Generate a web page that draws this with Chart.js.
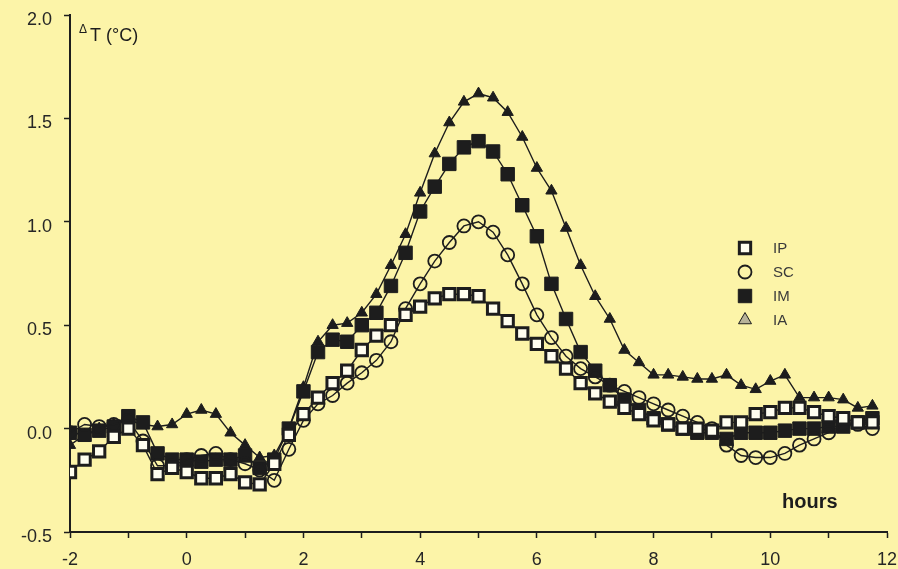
<!DOCTYPE html>
<html>
<head>
<meta charset="utf-8">
<script src="https://cdn.jsdelivr.net/npm/chart.js@4.4.1/dist/chart.umd.min.js"></script>
<style>
  html, body { margin: 0; padding: 0; background: #fcf4a8; }
  #wrap { width: 898px; height: 569px; }
</style>
</head>
<body>
<div id="wrap"><canvas id="myChart" width="898" height="569"></canvas></div>
<script>
// sampling times (hours), one point every 15 minutes
const hours = [
    -2, -1.75, -1.5, -1.25, -1, -0.75, -0.5, -0.25,
    0, 0.25, 0.5, 0.75, 1, 1.25, 1.5, 1.75,
    2, 2.25, 2.5, 2.75, 3, 3.25, 3.5, 3.75,
    4, 4.25, 4.5, 4.75, 5, 5.25, 5.5, 5.75,
    6, 6.25, 6.5, 6.75, 7, 7.25, 7.5, 7.75,
    8, 8.25, 8.5, 8.75, 9, 9.25, 9.5, 9.75,
    10, 10.25, 10.5, 10.75, 11, 11.25, 11.5, 11.75
];

const ipValues = [
    -0.21, -0.15, -0.11, -0.04, 0.00, -0.08, -0.22, -0.19,
    -0.21, -0.24, -0.24, -0.22, -0.26, -0.27, -0.17, -0.03,
    0.07, 0.15, 0.22, 0.28, 0.38, 0.45, 0.50, 0.55,
    0.59, 0.63, 0.65, 0.65, 0.64, 0.58, 0.52, 0.46,
    0.41, 0.35, 0.29, 0.22, 0.17, 0.13, 0.10, 0.07,
    0.04, 0.02, 0.00, 0.00, -0.01, 0.03, 0.03, 0.07,
    0.08, 0.10, 0.10, 0.08, 0.06, 0.05, 0.03, 0.03
];

const scValues = [
    -0.02, 0.02, 0.01, 0.02, 0.04, -0.06, -0.18, -0.18,
    -0.15, -0.13, -0.12, -0.15, -0.17, -0.20, -0.25, -0.10,
    0.04, 0.12, 0.16, 0.22, 0.27, 0.33, 0.42, 0.58,
    0.70, 0.81, 0.90, 0.98, 1.00, 0.95, 0.84, 0.70,
    0.55, 0.44, 0.35, 0.29, 0.25, 0.21, 0.18, 0.15,
    0.12, 0.09, 0.06, 0.03, 0.00, -0.08, -0.13, -0.14,
    -0.14, -0.12, -0.08, -0.05, -0.02, 0.02, 0.02, 0.00
];

const imValues = [
    -0.02, -0.03, -0.01, 0.01, 0.06, 0.03, -0.12, -0.15,
    -0.15, -0.16, -0.15, -0.15, -0.13, -0.19, -0.15, 0.00,
    0.18, 0.37, 0.43, 0.42, 0.50, 0.56, 0.69, 0.85,
    1.05, 1.17, 1.28, 1.36, 1.39, 1.34, 1.23, 1.08,
    0.93, 0.70, 0.53, 0.37, 0.28, 0.21, 0.14, 0.09,
    0.05, 0.02, 0.00, -0.02, -0.02, -0.05, -0.02, -0.02,
    -0.02, -0.01, 0.00, 0.00, 0.01, 0.01, 0.03, 0.05
];

const iaValues = [
    -0.08, -0.03, 0.00, 0.02, 0.04, 0.02, 0.01, 0.02,
    0.07, 0.09, 0.07, -0.02, -0.08, -0.14, -0.13, 0.00,
    0.20, 0.42, 0.50, 0.51, 0.56, 0.65, 0.79, 0.94,
    1.14, 1.33, 1.48, 1.58, 1.62, 1.60, 1.53, 1.41,
    1.26, 1.15, 0.97, 0.79, 0.64, 0.53, 0.38, 0.32,
    0.26, 0.26, 0.25, 0.24, 0.24, 0.26, 0.21, 0.19,
    0.23, 0.26, 0.15, 0.15, 0.15, 0.14, 0.10, 0.11
];

const seriesNames = ['IP', 'SC', 'IM', 'IA'];
const xTicks = [-2, 0, 2, 4, 6, 8, 10, 12];
const yTicks = [-0.5, 0.0, 0.5, 1.0, 1.5, 2.0];

const ink = '#1d1d1d';
const paper = '#fcf4a8';
const fontFamily = '"Liberation Sans", Arial, Helvetica, sans-serif';

const toPoints = (vals) => vals.map((v, i) => ({ x: hours[i], y: v }));

// background + annotations + legend drawn inside the plot
const figureText = {
    id: 'figureText',
    beforeDraw(chart) {
        const c = chart.ctx;
        c.save();
        c.fillStyle = paper;
        c.fillRect(0, 0, chart.width, chart.height);
        c.restore();
    },
    afterDatasetsDraw(chart) {
        const c = chart.ctx;
        c.save();
        c.fillStyle = ink;
        c.textBaseline = 'alphabetic';
        c.textAlign = 'left';
        c.font = '12px ' + fontFamily;
        c.fillText('\u0394', 79, 33);
        c.font = '18px ' + fontFamily;
        c.fillText('T (\u00B0C)', 90, 41);
        c.font = 'bold 20px ' + fontFamily;
        c.fillText('hours', 782, 508);

        // legend
        const rows = [248, 272, 296, 320];
        chart.data.datasets.forEach((ds, i) => {
            const y = rows[i];
            c.fillStyle = ds.legendFill || ds.pointBackgroundColor;
            c.strokeStyle = ink;
            c.lineWidth = ds.pointBorderWidth;
            Chart.helpers.drawPoint(c, {
                pointStyle: ds.pointStyle,
                radius: ds.legendRadius || ds.pointRadius,
                borderWidth: ds.pointBorderWidth,
                rotation: 0
            }, 745, y);
            c.fillStyle = '#3a3a3a';
            c.font = '15px ' + fontFamily;
            c.textBaseline = 'middle';
            c.fillText(ds.label, 773, y + 1);
        });
        c.restore();
    }
};

const ctx = document.getElementById('myChart').getContext('2d');

const myChart = new Chart(ctx, {
    type: 'line',
    data: {
        datasets: [
            {
                label: seriesNames[0],
                data: toPoints(ipValues),
                borderColor: ink,
                borderWidth: 1.4,
                pointStyle: 'rect',
                pointRadius: 8,
                pointBorderWidth: 3,
                pointBorderColor: ink,
                pointBackgroundColor: '#fffef0',
                tension: 0
            },
            {
                label: seriesNames[1],
                data: toPoints(scValues),
                borderColor: ink,
                borderWidth: 1.4,
                pointStyle: 'circle',
                pointRadius: 6.5,
                pointBorderWidth: 1.8,
                pointBorderColor: ink,
                pointBackgroundColor: 'rgba(0,0,0,0)',
                tension: 0
            },
            {
                label: seriesNames[2],
                data: toPoints(imValues),
                borderColor: ink,
                borderWidth: 1.4,
                pointStyle: 'rect',
                pointRadius: 9.5,
                pointBorderWidth: 1,
                pointBorderColor: ink,
                pointBackgroundColor: ink,
                tension: 0
            },
            {
                label: seriesNames[3],
                data: toPoints(iaValues),
                borderColor: ink,
                borderWidth: 1.4,
                pointStyle: 'triangle',
                pointRadius: 6.5,
                pointBorderWidth: 1,
                pointBorderColor: ink,
                pointBackgroundColor: ink,
                legendFill: '#b8b39a',
                legendRadius: 7.5,
                tension: 0
            }
        ]
    },
    options: {
        responsive: false,
        animation: false,
        devicePixelRatio: 1,
        layout: { padding: { top: 15, right: 10, left: 0, bottom: 0 } },
        plugins: {
            legend: { display: false },
            tooltip: { enabled: false }
        },
        scales: {
            x: {
                type: 'linear',
                min: -2,
                max: 12,
                afterFit: (s) => { s.height = 37; s.paddingLeft = 0; s.paddingRight = 0; },
                border: { display: true, color: ink, width: 2 },
                grid: { display: true, drawOnChartArea: false, drawTicks: true, tickLength: 6, tickColor: ink, tickWidth: 1.5 },
                ticks: {
                    stepSize: 1,
                    autoSkip: false,
                    maxRotation: 0,
                    padding: 11,
                    color: '#262626',
                    font: { family: fontFamily, size: 18 },
                    callback: (v) => (xTicks.includes(v) ? String(v) : '')
                }
            },
            y: {
                min: -0.5,
                max: 2.0,
                afterFit: (s) => { s.width = 70; s.paddingTop = 0; s.paddingBottom = 0; },
                border: { display: true, color: ink, width: 2 },
                grid: { display: true, drawOnChartArea: false, drawTicks: true, tickLength: 6, tickColor: ink, tickWidth: 1.5 },
                ticks: {
                    stepSize: 0.5,
                    padding: 12,
                    labelOffset: 5,
                    color: '#262626',
                    font: { family: fontFamily, size: 18 },
                    callback: (v) => (yTicks.some((t) => Math.abs(t - v) < 1e-9) ? v.toFixed(1) : '')
                }
            }
        }
    },
    plugins: [figureText]
});

myChart;
</script>
</body>
</html>
